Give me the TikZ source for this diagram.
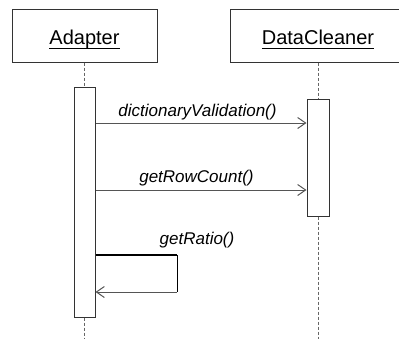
\documentclass[tikz,border=0pt]{standalone}
\usepackage{fontspec}
\setmainfont{Liberation Sans}
\usetikzlibrary{arrows.meta}
\definecolor{boxline}{HTML}{333333}
\definecolor{msgline}{HTML}{555555}
\definecolor{lifeline}{HTML}{666666}
\newcommand{\ttl}[1]{{\fontsize{20}{24}\selectfont\setbox0\hbox{#1}\rlap{\rule[-5.1pt]{\wd0}{1.6pt}}\box0}}
\newcommand{\lbl}[1]{{\fontsize{17}{20}\selectfont\itshape #1}}
\begin{document}
\begin{tikzpicture}[x=1pt,y=-1pt,
  objbox/.style={draw=boxline,line width=1pt,fill=white,minimum height=53pt,inner sep=0pt},
  objtitle/.style={anchor=base,inner sep=0pt},
  actbox/.style={draw=boxline,line width=1pt,fill=white,inner sep=0pt},
  lifedash/.style={draw=lifeline,line width=1pt,dash pattern=on 3pt off 2pt},
  msg/.style={draw=msgline,line width=1pt,-{Straight Barb[length=8pt,width=11pt,line width=1pt]}},
  msglabel/.style={anchor=base,inner sep=0pt}]
\useasboundingbox (0,0) rectangle (399,338);
\clip (0,0) rectangle (399,338);
% objects
\node[objbox,minimum width=145pt] (adapter) at (84.5,35.5) {};
\node[objbox,minimum width=176pt] (cleaner) at (318,35.5) {};
\node[objtitle] (adapterT) at (84.5,44) {\ttl{Adapter}};
\node[objtitle] (cleanerT) at (318,44) {\ttl{DataCleaner}};
% activation boxes
\node[actbox,minimum width=21pt,minimum height=230pt] (actA) at (84.5,202) {};
\node[actbox,minimum width=22pt,minimum height=117pt] (actD) at (318,157.5) {};
% lifeline ends
\coordinate (endA) at (84.5,340);
\coordinate (endD) at (318,340);
\draw[lifedash] (adapter.south) -- (actA.north);
\draw[lifedash] (actA.south) -- (endA);
\draw[lifedash] (cleaner.south) -- (actD.north);
\draw[lifedash] (actD.south) -- (endD);
% message rows
\coordinate (m1) at (0,123);
\coordinate (m2) at (0,190);
\coordinate (s1) at (177,255);
\coordinate (s2) at (177,292);
\draw[msg] (actA.east |- m1) -- (actD.west |- m1);
\draw[msg] (actA.east |- m2) -- (actD.west |- m2);
\draw[black,line width=2pt] (actA.east |- s1) -- (s1);
\draw[black,line width=1pt] (s1) -- (s2);
\draw[msg] (s2) -- (actA.east |- s2);
% labels
\node[msglabel] (l1) at (197.5,116.5) {\lbl{dictionaryValidation()}};
\node[msglabel] (l2) at (196.5,182.5) {\lbl{getRowCount()}};
\node[msglabel] (l3) at (197,244) {\lbl{getRatio()}};
\end{tikzpicture}
\end{document}
